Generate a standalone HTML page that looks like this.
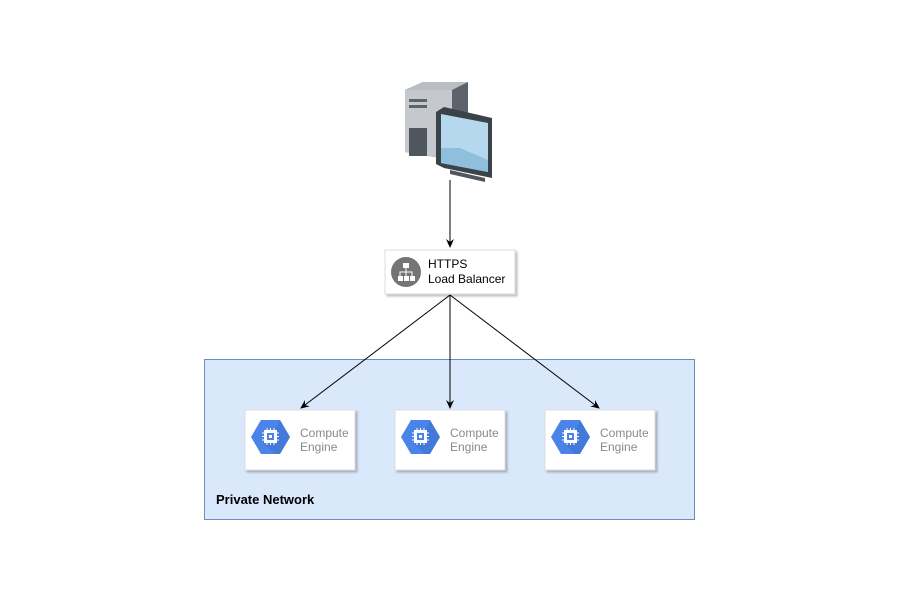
<!DOCTYPE html>
<html><head><style>body{margin:0;background:#fff}svg{display:block}text{font-family:"Liberation Sans",sans-serif}</style></head>
<body>
<svg width="900" height="600" viewBox="0 0 900 600" xmlns="http://www.w3.org/2000/svg">
<defs>
<marker id="a" markerWidth="10" markerHeight="10" refX="8" refY="4" orient="auto" markerUnits="userSpaceOnUse"><path d="M0,0 L9,4 L0,8 L3,4z" fill="#000"/></marker>
<filter id="s" x="-10%" y="-10%" width="130%" height="140%"><feDropShadow dx="2" dy="2" stdDeviation="1" flood-color="#000" flood-opacity="0.25"/></filter>
<g id="ce">
<rect x="0" y="0" width="110" height="60" fill="#fff" stroke="#ddd" filter="url(#s)"/>
<polygon points="6,27 16,10 35,10 45,27 35,44 16,44" fill="#4a84e8"/>
<polygon points="35,10 45,27 35,44 30,44 18,33 33,15" fill="#3f73d0" opacity="0.6"/>
<rect x="19" y="20" width="13" height="13" fill="#fff"/><rect x="22" y="23" width="7" height="7" fill="#4a84e8"/><rect x="24" y="25" width="3" height="3" fill="#fff"/>
<g stroke="#fff" stroke-width="1"><path d="M17,23h2M17,26.5h2M17,30h2M32,23h2M32,26.5h2M32,30h2M22,18v2M25.5,18v2M29,18v2M22,33v2M25.5,33v2M29,33v2"/></g>
<text x="55" y="27" font-size="12" fill="#8a8a8a">Compute</text>
<text x="55" y="41" font-size="12" fill="#8a8a8a">Engine</text>
</g>
</defs>
<rect x="204.5" y="359.5" width="490" height="160" fill="#dae8fc" stroke="#6c8ebf"/>
<text x="216" y="504" font-size="13" font-weight="bold">Private Network</text>
<!-- computer -->
<polygon points="405,90 423,82 468,82 468,155 452,160 405,152" fill="#5c636b"/>
<polygon points="405,90 423,82 468,82 452,90" fill="#b9bec3"/>
<polygon points="405,90 452,90 452,160 405,152" fill="#c5c9cd"/>
<rect x="409" y="99" width="18" height="3" fill="#5c636b"/><rect x="409" y="105" width="18" height="3" fill="#5c636b"/>
<rect x="409" y="128" width="18" height="28" fill="#4f565d"/>
<polygon points="436,112 444,107 492,118 492,178 444,168 436,164" fill="#3b4248"/>
<polygon points="441,114 488,123 488,172 441,163" fill="#b5d8ee"/>
<polygon points="441,148 460,148 488,160 488,172 441,163" fill="#8fbfdc"/>
<polygon points="450,170 485,178 485,182 450,174" fill="#4f565d"/>
<line x1="450" y1="180" x2="450" y2="247" stroke="#000" marker-end="url(#a)"/>
<!-- LB -->
<rect x="385" y="250" width="130" height="44" fill="#fff" stroke="#ddd" filter="url(#s)"/>
<circle cx="406" cy="272" r="15" fill="#757575"/>
<g fill="#fff"><rect x="403" y="263" width="6" height="5"/><rect x="398" y="276" width="5" height="5"/><rect x="404" y="276" width="5" height="5"/><rect x="410" y="276" width="5" height="5"/></g>
<path d="M406,268v8M400,276v-4h12v4" stroke="#fff" fill="none"/>
<text x="428" y="268" font-size="12">HTTPS</text>
<text x="428" y="283" font-size="12">Load Balancer</text>
<line x1="450" y1="295" x2="301" y2="408" stroke="#000" marker-end="url(#a)"/>
<line x1="450" y1="295" x2="450" y2="408" stroke="#000" marker-end="url(#a)"/>
<line x1="450" y1="295" x2="599" y2="408" stroke="#000" marker-end="url(#a)"/>
<use href="#ce" x="245" y="410"/>
<use href="#ce" x="395" y="410"/>
<use href="#ce" x="545" y="410"/>
</svg>
</body></html>
